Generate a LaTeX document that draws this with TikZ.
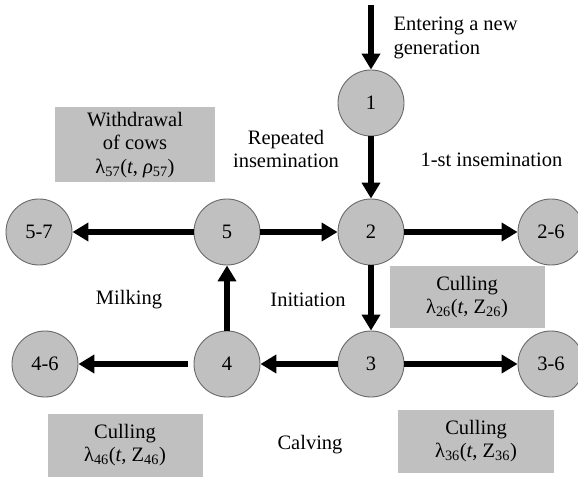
\documentclass[tikz,border=0pt]{standalone}
\usepackage{fontspec}
\setmainfont{Liberation Serif}
\usetikzlibrary{arrows.meta}
\definecolor{stagegray}{HTML}{C0C0C0}
\definecolor{rimgray}{HTML}{6A6A6A}
\begin{document}
\begin{tikzpicture}[x=1pt, y=-1pt,
        every node/.style={font=\fontsize{20.5pt}{23.5pt}\selectfont},
        stage/.style={circle, draw=rimgray, line width=0.9pt, fill=stagegray, minimum size=66pt, inner sep=0pt},
        ratebox/.style={fill=stagegray, align=center, inner sep=0pt},
        flow/.style={line width=5.5pt, -{Triangle[length=16pt, width=18pt]}}]
        \useasboundingbox (0, 0) rectangle (578, 478);

        \node[stage] (S1) at (371, 103) {1};
        \node[stage] (S2) at (371, 232) {2};
        \node[stage] (S5) at (227, 232) {5};
        \node[stage] (S57) at (39, 232) {5-7};
        \node[stage] (S26) at (551, 232) {2-6};
        \node[stage] (S3) at (371, 364) {3};
        \node[stage] (S4) at (227, 364) {4};
        \node[stage] (S46) at (45, 364) {4-6};
        \node[stage] (S36) at (551, 364) {3-6};

        \node[ratebox, minimum width=160pt, minimum height=75pt] (W57) at (135, 145) {Withdrawal\\of cows\\λ\textsubscript{57}(\textit{t}, \textit{ρ}\textsubscript{57})};
        \node[ratebox, minimum width=155pt, minimum height=61pt] (C26) at (467, 297) {Culling\\λ\textsubscript{26}(\textit{t}, Z\textsubscript{26})};
        \node[ratebox, minimum width=155pt, minimum height=63pt] (C46) at (125, 445) {Culling\\λ\textsubscript{46}(\textit{t}, Z\textsubscript{46})};
        \node[ratebox, minimum width=156pt, minimum height=63pt] (C36) at (476, 441) {Culling\\λ\textsubscript{36}(\textit{t}, Z\textsubscript{36})};

        \node[anchor=west, align=left] (entry) at (390, 38) {Entering a new\\generation};
        \node[align=center] (repeat) at (286, 149) {Repeated\\insemination};
        \node[anchor=west] (first) at (417, 160) {1-st insemination};
        \node (milk) at (129, 300) {Milking};
        \node (init) at (308, 300) {Initiation};
        \node (calve) at (310, 445) {Calving};

        \coordinate (top) at (371, 5);
        \draw[flow] (top) -- (S1);
        \draw[flow] (S1) -- (S2);
        \draw[flow] (S5) -- (S57);
        \draw[flow] (S5) -- (S2);
        \draw[flow] (S2) -- (S26);
        \draw[flow] (S2) -- (S3);
        \draw[flow] (S4) -- (S5);
        \draw[flow] (S3) -- (S4);
        \draw[flow, shorten <=6pt] (S4) -- (S46);
        \draw[flow] (S3) -- (S36);
    \end{tikzpicture}
\end{document}
